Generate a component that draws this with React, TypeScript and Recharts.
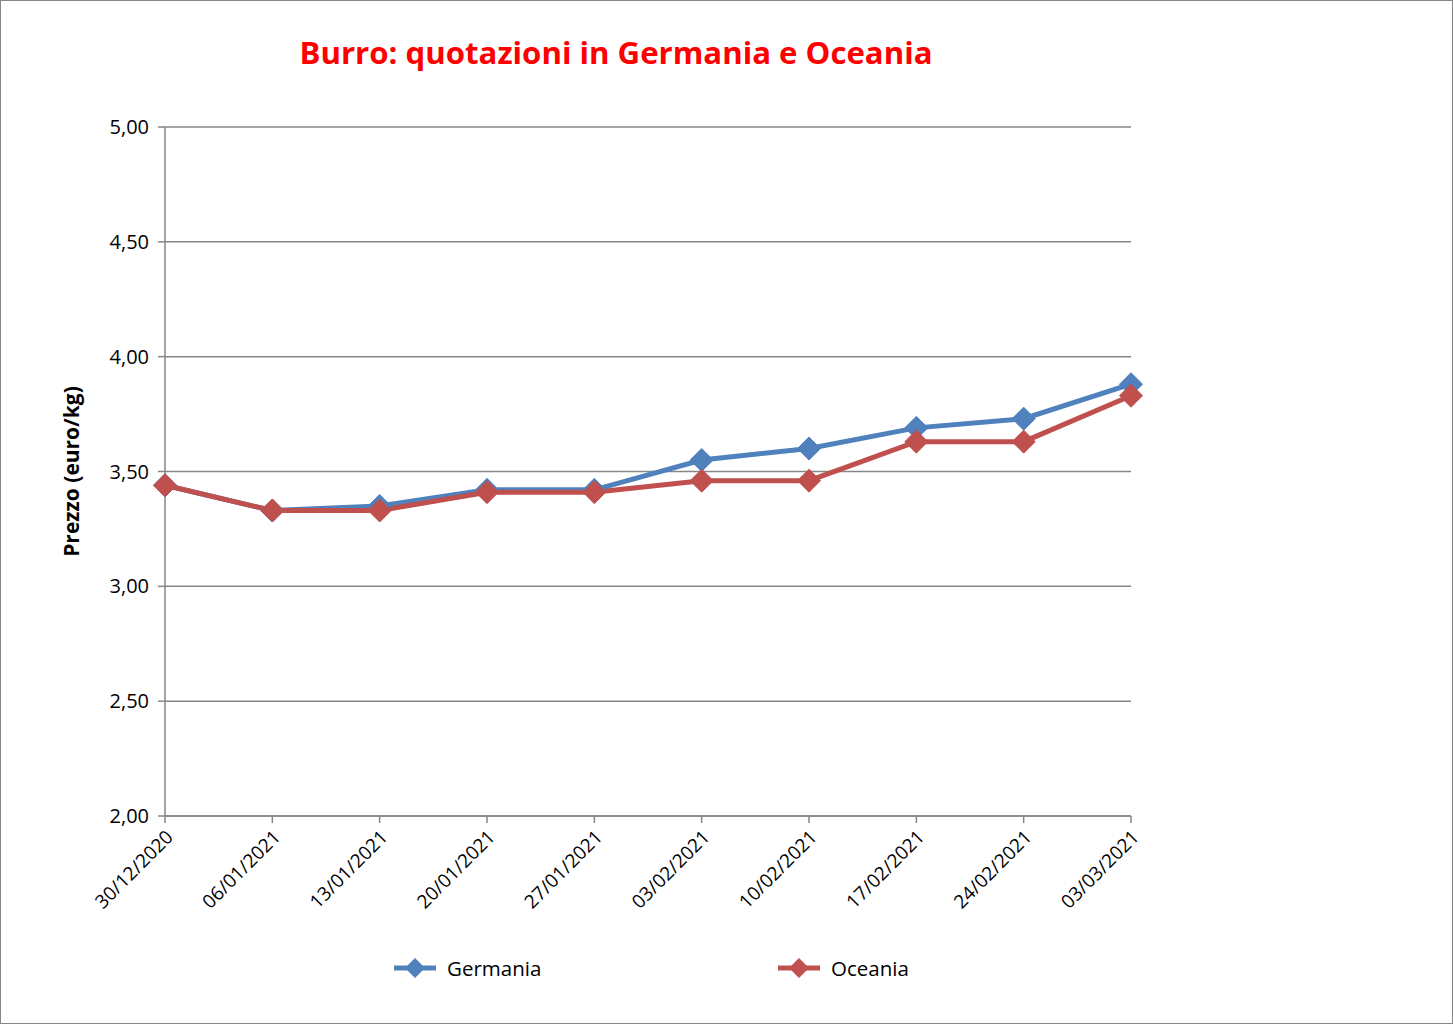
import { LineChart, Line, XAxis, YAxis, CartesianGrid } from 'recharts';

const dates = [
  '30/12/2020', '06/01/2021', '13/01/2021', '20/01/2021', '27/01/2021',
  '03/02/2021', '10/02/2021', '17/02/2021', '24/02/2021', '03/03/2021',
];
const germania = [3.44, 3.33, 3.35, 3.42, 3.42, 3.55, 3.6, 3.69, 3.73, 3.88];
const oceania = [3.44, 3.33, 3.33, 3.41, 3.41, 3.46, 3.46, 3.63, 3.63, 3.83];
const yTicks = [2, 2.5, 3, 3.5, 4, 4.5, 5];

const BLUE = '#4F81BD';
const RED = '#C0504D';
const GRAY = '#868686';
const FONT = '"Open Sans", "Liberation Sans", sans-serif';

const data = dates.map((d, i) => ({ date: d, Germania: germania[i], Oceania: oceania[i] }));

// diamond marker like the Excel one
const Diamond = (color: string) => (props: any) => {
  const { cx, cy, index } = props;
  if (cx == null || cy == null) return <g key={index} />;
  const r = 11.5;
  return (
    <polygon
      key={index}
      points={`${cx},${cy - r} ${cx + r},${cy} ${cx},${cy + r} ${cx - r},${cy}`}
      fill={color}
      stroke={color}
      strokeWidth={1}
      strokeLinejoin="round"
    />
  );
};

const XTick = (props: any) => {
  const { x, y, payload } = props;
  return (
    <text
      x={x - 2}
      y={y + 2}
      transform={`rotate(-45, ${x - 2}, ${y + 2})`}
      textAnchor="end"
      dominantBaseline="hanging"
      fontSize={19}
      fontFamily={FONT}
      fill="#000"
    >
      {payload.value}
    </text>
  );
};

const LegendItem = ({ color, label, left }: { color: string; label: string; left: number }) => (
  <div style={{ position: 'absolute', left, top: 0, display: 'flex', alignItems: 'center' }}>
    <svg width={44} height={24}>
      <line x1={1} y1={12} x2={43} y2={12} stroke={color} strokeWidth={5} />
      <polygon points="22,2 32,12 22,22 12,12" fill={color} />
    </svg>
    <span style={{ marginLeft: 10, fontSize: 20.5, fontFamily: FONT, color: '#000' }}>{label}</span>
  </div>
);

export default function App() {
  return (
    <div
      style={{
        position: 'absolute',
        left: 0,
        top: 0,
        width: 1453,
        height: 1024,
        background: '#fff',
        boxSizing: 'border-box',
        border: `1px solid ${GRAY}`,
      }}
    >
      <LineChart
        width={1451}
        height={1022}
        data={data}
        margin={{ top: 126, right: 321, left: 104, bottom: 97 }}
      >
        <text
          x={615}
          y={63}
          textAnchor="middle"
          fontSize={30}
          fontWeight="bold"
          fontFamily={FONT}
          fill="#FF0000"
          textLength={633}
          lengthAdjust="spacingAndGlyphs"
        >
          Burro: quotazioni in Germania e Oceania
        </text>
        <CartesianGrid horizontal vertical={false} stroke={GRAY} strokeWidth={1.5} />
        <XAxis
          dataKey="date"
          stroke={GRAY}
          strokeWidth={1.5}
          tickSize={7}
          tick={<XTick />}
          interval={0}
          height={110}
        />
        <YAxis
          domain={[2, 5]}
          ticks={yTicks}
          stroke={GRAY}
          strokeWidth={1.5}
          tickSize={7}
          width={60}
          tickFormatter={(v: number) => v.toFixed(2).replace('.', ',')}
          tick={{ fill: '#000', fontSize: 20, fontFamily: FONT, dx: -7 }}
          label={{
            value: 'Prezzo (euro/kg)',
            angle: -90,
            position: 'insideLeft',
            dx: -38,
            dy: 0,
            style: { textAnchor: 'middle', fontSize: 21, fontWeight: 'bold', fontFamily: FONT, fill: '#000' },
          }}
        />
        <Line
          dataKey="Germania"
          stroke={BLUE}
          strokeWidth={5}
          dot={Diamond(BLUE)}
          activeDot={false}
          isAnimationActive={false}
        />
        <Line
          dataKey="Oceania"
          stroke={RED}
          strokeWidth={5}
          dot={Diamond(RED)}
          activeDot={false}
          isAnimationActive={false}
        />
      </LineChart>
      <div style={{ position: 'absolute', left: 0, top: 953, width: 1453, height: 30 }}>
        <LegendItem color={BLUE} label="Germania" left={392} />
        <LegendItem color={RED} label="Oceania" left={776} />
      </div>
    </div>
  );
}
